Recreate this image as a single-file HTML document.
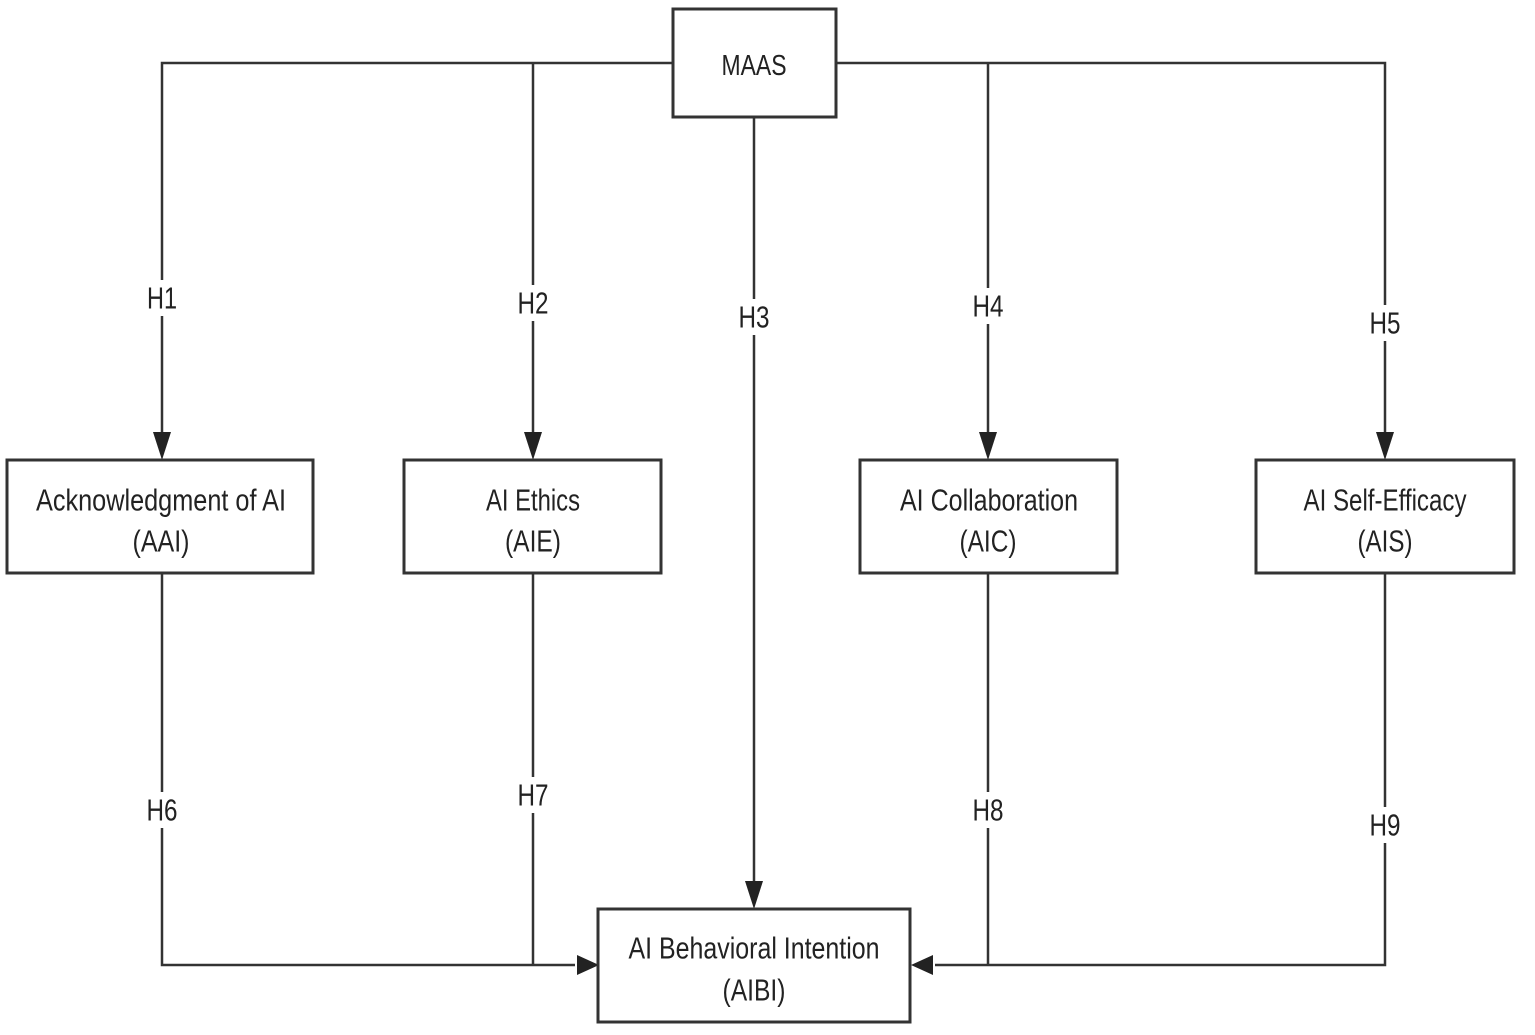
<!DOCTYPE html>
<html><head><meta charset="utf-8"><style>
html,body{margin:0;padding:0;background:#fff;}
svg{display:block}
text{font-family:"Liberation Sans",sans-serif;fill:#222;text-anchor:middle;dominant-baseline:central}
</style></head><body>
<svg width="1535" height="1035" viewBox="0 0 1535 1035" xmlns="http://www.w3.org/2000/svg">
<g stroke="#333" stroke-width="2.5" fill="none">
<polyline points="162,433 162,63 673,63"/>
<line x1="533" y1="63" x2="533" y2="433"/>
<line x1="754" y1="117" x2="754" y2="883"/>
<polyline points="836,63 1385,63 1385,433"/>
<line x1="988" y1="63" x2="988" y2="433"/>
<polyline points="162,573 162,965 575,965"/>
<line x1="533" y1="573" x2="533" y2="965"/>
<polyline points="1385,573 1385,965 935,965"/>
<line x1="988" y1="573" x2="988" y2="965"/>
</g>
<g fill="#222">
<polygon points="153,432 171,432 162,460"/>
<polygon points="524,432 542,432 533,460"/>
<polygon points="979,432 997,432 988,460"/>
<polygon points="1376,432 1394,432 1385,460"/>
<polygon points="745,881 763,881 754,909"/>
<polygon points="577,955 577,975 599,965"/>
<polygon points="933,955 933,975 911,965"/>
</g>
<g fill="#fff" stroke="#333" stroke-width="3">
<rect x="673" y="9" width="163" height="108"/>
<rect x="7" y="460" width="306" height="113"/>
<rect x="404" y="460" width="257" height="113"/>
<rect x="860" y="460" width="257" height="113"/>
<rect x="1256" y="460" width="258" height="113"/>
<rect x="598" y="909" width="312" height="113"/>
</g>
<g fill="#fff">
<rect x="142" y="280" width="40" height="36"/>
<rect x="513" y="285" width="40" height="36"/>
<rect x="734" y="299" width="40" height="36"/>
<rect x="968" y="288" width="40" height="36"/>
<rect x="1365" y="305" width="40" height="36"/>
<rect x="142" y="792" width="40" height="36"/>
<rect x="513" y="777" width="40" height="36"/>
<rect x="968" y="792" width="40" height="36"/>
<rect x="1365" y="807" width="40" height="36"/>
</g>
<g font-size="31">
<text x="754" y="66" font-size="29" textLength="65" lengthAdjust="spacingAndGlyphs">MAAS</text>
<text x="161" y="500" textLength="250" lengthAdjust="spacingAndGlyphs">Acknowledgment of AI</text>
<text x="161" y="541" textLength="57" lengthAdjust="spacingAndGlyphs">(AAI)</text>
<text x="533" y="500" textLength="94" lengthAdjust="spacingAndGlyphs">AI Ethics</text>
<text x="533" y="541" textLength="56" lengthAdjust="spacingAndGlyphs">(AIE)</text>
<text x="989" y="500" textLength="178" lengthAdjust="spacingAndGlyphs">AI Collaboration</text>
<text x="988" y="541" textLength="57" lengthAdjust="spacingAndGlyphs">(AIC)</text>
<text x="1385" y="500" textLength="163" lengthAdjust="spacingAndGlyphs">AI Self-Efficacy</text>
<text x="1385" y="541" textLength="55" lengthAdjust="spacingAndGlyphs">(AIS)</text>
<text x="754" y="948" textLength="251" lengthAdjust="spacingAndGlyphs">AI Behavioral Intention</text>
<text x="754" y="990" textLength="63" lengthAdjust="spacingAndGlyphs">(AIBI)</text>
<text x="162" y="298" textLength="30" lengthAdjust="spacingAndGlyphs">H1</text>
<text x="533" y="303" textLength="31" lengthAdjust="spacingAndGlyphs">H2</text>
<text x="754" y="317" textLength="31" lengthAdjust="spacingAndGlyphs">H3</text>
<text x="988" y="306" textLength="31" lengthAdjust="spacingAndGlyphs">H4</text>
<text x="1385" y="323" textLength="31" lengthAdjust="spacingAndGlyphs">H5</text>
<text x="162" y="810" textLength="31" lengthAdjust="spacingAndGlyphs">H6</text>
<text x="533" y="795" textLength="31" lengthAdjust="spacingAndGlyphs">H7</text>
<text x="988" y="810" textLength="31" lengthAdjust="spacingAndGlyphs">H8</text>
<text x="1385" y="825" textLength="31" lengthAdjust="spacingAndGlyphs">H9</text>
</g>
</svg>
</body></html>
